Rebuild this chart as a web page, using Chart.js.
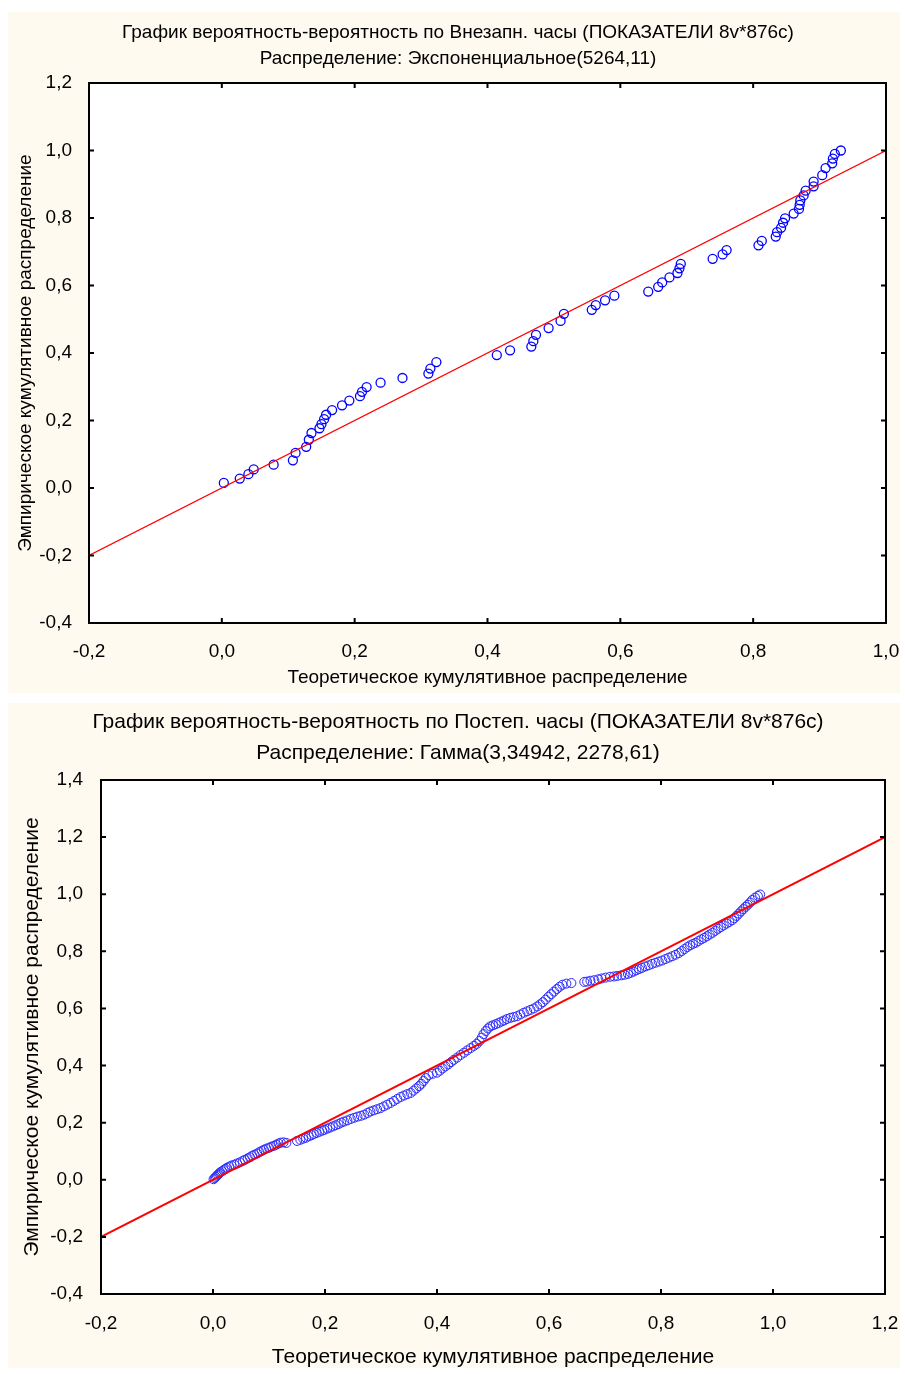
<!DOCTYPE html>
<html lang="ru">
<head>
<meta charset="utf-8">
<title>График вероятность-вероятность</title>
<script src="https://cdn.jsdelivr.net/npm/chart.js@4.4.1/dist/chart.umd.min.js"></script>
<style>
    html, body { margin: 0; padding: 0; background: #ffffff; }
    body { position: relative; width: 905px; height: 1374px; overflow: hidden; }
    .panel { position: absolute; left: 8px; width: 892px; background: #fffaf0; }
    #panel1 { top: 12px; height: 681px; }
    #panel2 { top: 703px; height: 665px; }
    .chart-box { position: absolute; left: 11px; width: 894px; }
    #box1 { top: 0; height: 697px; }
    #box2 { top: 697px; height: 677px; }
</style>
</head>
<body>
<div class="panel" id="panel1"></div>
<div class="panel" id="panel2"></div>
<div class="chart-box" id="box1"><canvas id="ppChart1"></canvas></div>
<div class="chart-box" id="box2"><canvas id="ppChart2"></canvas></div>
<script>
const FONT = "'Liberation Sans', Arial, sans-serif";

// Внезапн. часы, экспоненциальное распределение
const suddenTheoretical = [
    0.003, 0.027, 0.040, 0.048, 0.078, 0.107, 0.111, 0.127, 0.131, 0.135,
    0.147, 0.150, 0.154, 0.157, 0.166, 0.181, 0.192, 0.208, 0.211, 0.218,
    0.239, 0.272, 0.311, 0.314, 0.323, 0.414, 0.434, 0.466, 0.469, 0.473,
    0.492, 0.510, 0.515, 0.557, 0.563, 0.577, 0.591, 0.642, 0.657, 0.663,
    0.674, 0.686, 0.689, 0.691, 0.739, 0.754, 0.760, 0.808, 0.813, 0.834,
    0.836, 0.842, 0.845, 0.848, 0.861, 0.869, 0.870, 0.871, 0.876, 0.879,
    0.891, 0.891, 0.904, 0.909, 0.919, 0.920, 0.923, 0.932,
];
const suddenEmpirical = [
    0.015, 0.028, 0.041, 0.055, 0.069, 0.082, 0.104, 0.122, 0.143, 0.163,
    0.177, 0.189, 0.204, 0.217, 0.231, 0.245, 0.259, 0.272, 0.285, 0.299,
    0.312, 0.326, 0.339, 0.354, 0.373, 0.394, 0.408, 0.419, 0.435, 0.454,
    0.474, 0.495, 0.516, 0.528, 0.542, 0.556, 0.570, 0.582, 0.596, 0.609,
    0.624, 0.637, 0.651, 0.664, 0.679, 0.692, 0.705, 0.719, 0.732, 0.745,
    0.758, 0.771, 0.786, 0.799, 0.813, 0.827, 0.839, 0.852, 0.867, 0.881,
    0.894, 0.908, 0.927, 0.948, 0.962, 0.976, 0.990, 1.000,
];
const suddenRefLine = [-0.2, 1.0];

// Постеп. часы, гамма-распределение
const gradualTheoretical = [
    0.001, 0.003, 0.005, 0.007, 0.009, 0.011, 0.013, 0.016, 0.019, 0.022,
    0.025, 0.029, 0.033, 0.038, 0.043, 0.048, 0.053, 0.057, 0.062, 0.066,
    0.070, 0.074, 0.079, 0.083, 0.087, 0.091, 0.095, 0.100, 0.104, 0.109,
    0.113, 0.117, 0.121, 0.126, 0.131, 0.150, 0.156, 0.161, 0.166, 0.171,
    0.176, 0.180, 0.185, 0.190, 0.195, 0.199, 0.204, 0.209, 0.214, 0.219,
    0.224, 0.229, 0.234, 0.240, 0.246, 0.252, 0.258, 0.264, 0.270, 0.276,
    0.281, 0.287, 0.293, 0.299, 0.305, 0.311, 0.317, 0.323, 0.329, 0.335,
    0.341, 0.347, 0.353, 0.358, 0.363, 0.368, 0.372, 0.376, 0.380, 0.385,
    0.392, 0.400, 0.405, 0.410, 0.415, 0.420, 0.425, 0.430, 0.436, 0.442,
    0.448, 0.454, 0.460, 0.466, 0.471, 0.476, 0.480, 0.483, 0.487, 0.491,
    0.495, 0.500, 0.505, 0.510, 0.515, 0.520, 0.525, 0.531, 0.537, 0.543,
    0.549, 0.555, 0.561, 0.567, 0.573, 0.579, 0.584, 0.589, 0.594, 0.599,
    0.604, 0.609, 0.614, 0.619, 0.624, 0.631, 0.640, 0.663, 0.668, 0.674,
    0.681, 0.688, 0.694, 0.701, 0.709, 0.716, 0.722, 0.729, 0.735, 0.741,
    0.746, 0.751, 0.756, 0.761, 0.766, 0.772, 0.778, 0.784, 0.790, 0.796,
    0.802, 0.808, 0.814, 0.820, 0.826, 0.832, 0.837, 0.842, 0.847, 0.852,
    0.857, 0.862, 0.867, 0.872, 0.877, 0.882, 0.887, 0.892, 0.897, 0.902,
    0.907, 0.912, 0.917, 0.922, 0.927, 0.931, 0.935, 0.939, 0.943, 0.947,
    0.951, 0.955, 0.959, 0.963, 0.968, 0.973, 0.977,
];
const gradualEmpirical = [
    0.002, 0.006, 0.010, 0.014, 0.018, 0.022, 0.026, 0.030, 0.034, 0.038,
    0.042, 0.046, 0.050, 0.053, 0.057, 0.061, 0.066, 0.070, 0.075, 0.079,
    0.084, 0.088, 0.092, 0.097, 0.101, 0.105, 0.109, 0.112, 0.116, 0.119,
    0.123, 0.127, 0.130, 0.131, 0.129, 0.136, 0.140, 0.144, 0.147, 0.152,
    0.156, 0.160, 0.164, 0.168, 0.172, 0.175, 0.179, 0.183, 0.187, 0.191,
    0.195, 0.200, 0.204, 0.208, 0.213, 0.217, 0.221, 0.224, 0.228, 0.234,
    0.239, 0.243, 0.247, 0.251, 0.257, 0.263, 0.269, 0.276, 0.283, 0.290,
    0.295, 0.300, 0.304, 0.312, 0.320, 0.328, 0.336, 0.346, 0.356, 0.366,
    0.371, 0.375, 0.382, 0.390, 0.397, 0.404, 0.412, 0.420, 0.428, 0.437,
    0.445, 0.453, 0.461, 0.469, 0.476, 0.486, 0.498, 0.510, 0.521, 0.530,
    0.537, 0.541, 0.545, 0.549, 0.554, 0.558, 0.563, 0.567, 0.570, 0.573,
    0.579, 0.585, 0.590, 0.595, 0.600, 0.607, 0.614, 0.622, 0.631, 0.641,
    0.650, 0.659, 0.668, 0.676, 0.683, 0.687, 0.689, 0.693, 0.694, 0.697,
    0.699, 0.702, 0.705, 0.708, 0.711, 0.712, 0.714, 0.716, 0.718, 0.721,
    0.725, 0.729, 0.734, 0.738, 0.742, 0.747, 0.751, 0.756, 0.760, 0.764,
    0.768, 0.773, 0.778, 0.783, 0.788, 0.794, 0.801, 0.808, 0.815, 0.821,
    0.826, 0.830, 0.836, 0.842, 0.847, 0.853, 0.859, 0.865, 0.872, 0.879,
    0.885, 0.891, 0.897, 0.903, 0.909, 0.916, 0.924, 0.932, 0.940, 0.948,
    0.956, 0.963, 0.971, 0.980, 0.988, 0.994, 0.999,
];
const gradualRefLine = [-0.2, 1.2];

const xTitleText = "Теоретическое кумулятивное распределение";
const yTitleText = "Эмпирическое кумулятивное распределение";

function toPoints(xs, ys) {
    return xs.map((x, i) => ({ x: x, y: ys[i] }));
}

function commaTick(value) {
    const v = Math.abs(value) < 1e-9 ? 0 : value;
    return v.toFixed(1).replace(".", ",");
}

// white plot area, black frame and inward tick marks on all four sides
const plotFrame = {
    id: "plotFrame",
    beforeDraw(chart) {
        const { ctx, chartArea: a } = chart;
        ctx.save();
        ctx.fillStyle = "#ffffff";
        ctx.fillRect(a.left, a.top, a.right - a.left, a.bottom - a.top);
        ctx.restore();
    },
    afterDraw(chart) {
        const { ctx, chartArea: a, scales } = chart;
        const len = 5;
        ctx.save();
        ctx.strokeStyle = "#000000";
        ctx.lineWidth = 2;
        ctx.beginPath();
        scales.x.ticks.forEach((t) => {
            const px = scales.x.getPixelForValue(t.value);
            ctx.moveTo(px, a.top);
            ctx.lineTo(px, a.top + len);
            ctx.moveTo(px, a.bottom);
            ctx.lineTo(px, a.bottom - len);
        });
        scales.y.ticks.forEach((t) => {
            const py = scales.y.getPixelForValue(t.value);
            ctx.moveTo(a.left, py);
            ctx.lineTo(a.left + len, py);
            ctx.moveTo(a.right, py);
            ctx.lineTo(a.right - len, py);
        });
        ctx.stroke();
        ctx.strokeRect(a.left, a.top, a.right - a.left, a.bottom - a.top);
        ctx.restore();
    },
};

function makePPChart(canvasId, cfg) {
    const titleFont = { family: FONT, size: cfg.titleSize, weight: "normal", lineHeight: 1.2 };
    const tickFont = { family: FONT, size: cfg.tickSize, lineHeight: 1.2 };
    const axisFont = { family: FONT, size: cfg.axisSize, lineHeight: 1.2 };

    return new Chart(document.getElementById(canvasId), {
        type: "scatter",
        data: {
            datasets: [
                {
                    type: "line",
                    data: toPoints(cfg.refLine, cfg.refLine),
                    borderColor: "#ff0000",
                    borderWidth: cfg.lineWidth,
                    pointRadius: 0,
                    fill: false,
                },
                {
                    data: toPoints(cfg.xs, cfg.ys),
                    pointStyle: "circle",
                    pointRadius: cfg.pointRadius,
                    pointBorderWidth: cfg.pointBorder,
                    borderColor: cfg.pointColor,
                    backgroundColor: "rgba(0,0,0,0)",
                },
            ],
        },
        options: {
            responsive: true,
            maintainAspectRatio: false,
            animation: false,
            layout: { padding: 0 },
            plugins: {
                legend: { display: false },
                tooltip: { enabled: false },
                title: {
                    display: true,
                    text: cfg.title,
                    color: "#000000",
                    font: titleFont,
                    padding: { top: cfg.titlePad[0], bottom: cfg.titlePad[1] },
                },
                subtitle: {
                    display: true,
                    text: cfg.subtitle,
                    color: "#000000",
                    font: titleFont,
                    padding: { top: 0, bottom: cfg.subtitlePad },
                },
            },
            scales: {
                x: {
                    type: "linear",
                    min: cfg.xRange[0],
                    max: cfg.xRange[1],
                    grid: { display: false },
                    border: { display: false },
                    ticks: {
                        stepSize: 0.2,
                        callback: commaTick,
                        color: "#000000",
                        font: tickFont,
                        padding: cfg.xTickPad,
                        maxRotation: 0,
                        autoSkip: false,
                    },
                    title: {
                        display: true,
                        text: xTitleText,
                        color: "#000000",
                        font: axisFont,
                        padding: { top: 0, bottom: cfg.xTitlePad },
                    },
                    afterFit: (scale) => {
                        scale.height = cfg.xAxisHeight;
                        // end labels may hang past the plot edge, as in the original
                        scale.paddingLeft = 0;
                        scale.paddingRight = 0;
                    },
                },
                y: {
                    type: "linear",
                    min: cfg.yRange[0],
                    max: cfg.yRange[1],
                    grid: { display: false },
                    border: { display: false },
                    ticks: {
                        stepSize: 0.2,
                        callback: commaTick,
                        color: "#000000",
                        font: tickFont,
                        padding: cfg.yTickPad,
                    },
                    title: {
                        display: true,
                        text: yTitleText,
                        color: "#000000",
                        font: axisFont,
                        padding: { top: cfg.yTitlePad, bottom: 0 },
                    },
                    afterFit: (scale) => { scale.width = cfg.yAxisWidth; },
                },
                yRight: {
                    type: "linear",
                    position: "right",
                    grid: { display: false },
                    border: { display: false },
                    ticks: { display: false },
                    afterFit: (scale) => { scale.width = cfg.rightGap; },
                },
            },
        },
        plugins: [plotFrame],
    });
}

makePPChart("ppChart1", {
    title: "График вероятность-вероятность по Внезапн. часы (ПОКАЗАТЕЛИ 8v*876c)",
    subtitle: "Распределение: Экспоненциальное(5264,11)",
    xs: suddenTheoretical,
    ys: suddenEmpirical,
    refLine: suddenRefLine,
    xRange: [-0.2, 1.0],
    yRange: [-0.4, 1.2],
    titleSize: 19,
    tickSize: 19,
    axisSize: 19,
    titlePad: [21.6, 3.2],
    subtitlePad: 12.6,
    xTickPad: 9,
    yTickPad: 9,
    xTitlePad: 7.6,
    yTitlePad: 3.6,
    xAxisHeight: 74,
    yAxisWidth: 78,
    rightGap: 19,
    lineWidth: 1.2,
    pointRadius: 4.5,
    pointBorder: 1.3,
    pointColor: "#0000ff",
});

makePPChart("ppChart2", {
    title: "График вероятность-вероятность по Постеп. часы (ПОКАЗАТЕЛИ 8v*876c)",
    subtitle: "Распределение: Гамма(3,34942, 2278,61)",
    xs: gradualTheoretical,
    ys: gradualEmpirical,
    refLine: gradualRefLine,
    xRange: [-0.2, 1.2],
    yRange: [-0.4, 1.4],
    titleSize: 21,
    tickSize: 19,
    axisSize: 21,
    titlePad: [12.4, 5.8],
    subtitlePad: 14.4,
    xTickPad: 10,
    yTickPad: 10,
    xTitlePad: 4.4,
    yTitlePad: 8.4,
    xAxisHeight: 80,
    yAxisWidth: 90,
    rightGap: 20,
    lineWidth: 2,
    pointRadius: 4.5,
    pointBorder: 1,
    pointColor: "#2a2aff",
});
</script>
</body>
</html>
